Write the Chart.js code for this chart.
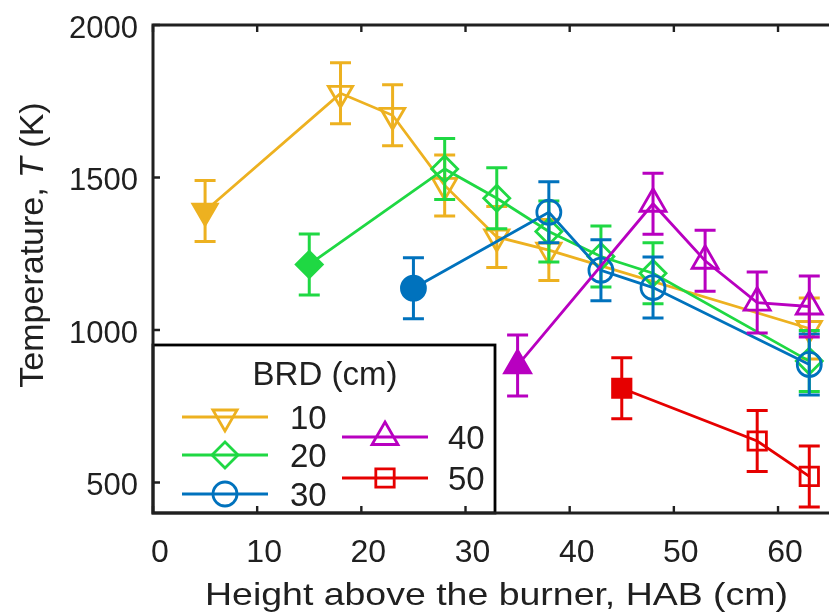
<!DOCTYPE html>
<html>
<head>
<meta charset="utf-8">
<script src="https://cdn.jsdelivr.net/npm/chart.js@4"></script>
<style>
html,body{margin:0;padding:0;background:#fff;overflow:hidden;width:829px;height:613px;}
canvas{display:block;}
</style>
</head>
<body>
<canvas id="c" width="900" height="613"></canvas>
<script>
// ---- data ----
const brdLabels = ['10', '20', '30', '40', '50'];
const hab10 = [5, 18, 23, 28, 33, 38, 63];
const temp10 = [1390, 1776, 1704, 1474, 1305, 1262, 1005];
const err10 = [100, 100, 100, 100, 100, 100, 100];
const hab20 = [15, 28, 33, 38, 43, 48, 63];
const temp20 = [1215, 1528, 1432, 1323, 1241, 1186, 898];
const err20 = [100, 100, 100, 100, 100, 100, 100];
const hab30 = [25, 38, 43, 48, 63];
const temp30 = [1137, 1386, 1196, 1139, 887];
const err30 = [100, 100, 100, 100, 100];
const hab40 = [35, 48, 53, 58, 63];
const temp40 = [884, 1414, 1227, 1090, 1077];
const err40 = [100, 100, 100, 100, 100];
const hab50 = [45, 58, 63];
const temp50 = [809, 636, 520];
const err50 = [100, 100, 100];
const xTickValues = [0, 10, 20, 30, 40, 50, 60, 70];
const yTickValues = [500, 1000, 1500, 2000];

// ---- styles ----
const colors = ['#EDB120', '#1FD843', '#0072BD', '#B800C0', '#E60000'];
const styles = ['triangle', 'rectRot', 'circle', 'triangle', 'rect'];
const rotations = [180, 0, 0, 0, 0];
const radii = [14, 13, 12, 15, 13];
const series = [
  {x: hab10, y: temp10, e: err10},
  {x: hab20, y: temp20, e: err20},
  {x: hab30, y: temp30, e: err30},
  {x: hab40, y: temp40, e: err40},
  {x: hab50, y: temp50, e: err50}
];
const TXT = '#202020';
const FONT = '"Liberation Sans", Arial, Helvetica, sans-serif';

const datasets = series.map((s, i) => ({
  label: brdLabels[i],
  data: s.x.map((xv, k) => ({x: xv, y: s.y[k]})),
  showLine: true,
  borderColor: colors[i],
  borderWidth: 2.8,
  pointStyle: styles[i],
  pointRotation: rotations[i],
  pointRadius: radii[i],
  pointBorderWidth: 2.8,
  pointBorderColor: colors[i],
  pointBackgroundColor: s.x.map((_, k) => k === 0 ? colors[i] : 'rgba(0,0,0,0)'),
  order: 10 - i,
  clip: false
}));

function drawMarker(ctx, style, rot, r, x, y, color) {
  ctx.save();
  ctx.strokeStyle = color; ctx.lineWidth = 2.8;
  Chart.helpers.drawPoint(ctx, {pointStyle: style, rotation: rot, radius: r, borderWidth: 2.8}, x, y);
  ctx.restore();
}

const plugin = {
  id: 'extras',
  beforeDatasetDraw(chart, args) {
    const i = args.index;
    const s = series[i];
    const ctx = chart.ctx, xs = chart.scales.x, ys = chart.scales.y;
    const CAP = 10.5;
    ctx.save();
    ctx.strokeStyle = colors[i];
    ctx.lineWidth = 3;
    s.x.forEach((xv, k) => {
      const px = xs.getPixelForValue(xv);
      const top = ys.getPixelForValue(s.y[k] + s.e[k]);
      const bot = ys.getPixelForValue(s.y[k] - s.e[k]);
      ctx.beginPath();
      ctx.moveTo(px, top); ctx.lineTo(px, bot);
      ctx.moveTo(px - CAP, top); ctx.lineTo(px + CAP, top);
      ctx.moveTo(px - CAP, bot); ctx.lineTo(px + CAP, bot);
      ctx.stroke();
    });
    ctx.restore();
  },
  afterDatasetsDraw(chart) {
    const ctx = chart.ctx, a = chart.chartArea, xs = chart.scales.x, ys = chart.scales.y;
    // legend box
    const L = a.left, R = 495, T = 345, B = a.bottom;
    ctx.save();
    ctx.fillStyle = '#fff';
    ctx.fillRect(L, T, R - L, B - T);
    ctx.strokeStyle = '#000'; ctx.lineWidth = 2.8;
    ctx.strokeRect(L, T, R - L, B - T);
    ctx.fillStyle = TXT;
    ctx.font = '33px ' + FONT;
    ctx.textAlign = 'center'; ctx.textBaseline = 'alphabetic';
    ctx.fillText('BRD (cm)', 325, 385);
    const items = [
      {x0: 182, x1: 268, mx: 225, y: 417, tx: 290},
      {x0: 182, x1: 268, mx: 225, y: 455, tx: 290},
      {x0: 182, x1: 268, mx: 225, y: 494, tx: 290},
      {x0: 342, x1: 428, mx: 385, y: 437, tx: 448},
      {x0: 342, x1: 428, mx: 385, y: 478, tx: 448}
    ];
    items.forEach((it, i) => {
      ctx.strokeStyle = colors[i]; ctx.lineWidth = 2.8;
      ctx.beginPath(); ctx.moveTo(it.x0, it.y); ctx.lineTo(it.x1, it.y); ctx.stroke();
      ctx.fillStyle = 'rgba(0,0,0,0)';
      drawMarker(ctx, styles[i], rotations[i], radii[i], it.mx, it.y, colors[i]);
      ctx.fillStyle = TXT;
      ctx.font = '33px ' + FONT;
      ctx.textAlign = 'left';
      ctx.fillText(brdLabels[i], it.tx, it.y + 12);
    });
    // frame
    ctx.strokeStyle = TXT; ctx.lineWidth = 3;
    ctx.beginPath();
    ctx.moveTo(a.right, a.top); ctx.lineTo(a.left, a.top); ctx.lineTo(a.left, a.bottom); ctx.lineTo(a.right, a.bottom); ctx.lineTo(a.right, a.top);
    ctx.stroke();
    // inward ticks
    ctx.lineWidth = 2.4;
    ctx.beginPath();
    xTickValues.forEach(v => {
      const px = xs.getPixelForValue(v);
      ctx.moveTo(px, a.bottom); ctx.lineTo(px, a.bottom - 7);
      ctx.moveTo(px, a.top); ctx.lineTo(px, a.top + 7);
    });
    yTickValues.forEach(v => {
      const py = ys.getPixelForValue(v);
      ctx.moveTo(a.left, py); ctx.lineTo(a.left + 7, py);
      ctx.moveTo(a.right, py); ctx.lineTo(a.right - 7, py);
    });
    ctx.stroke();
    // x title
    ctx.fillStyle = TXT;
    ctx.font = '32px ' + FONT;
    const xt = 'Height above the burner, HAB (cm)';
    const w = ctx.measureText(xt).width;
    ctx.save();
    ctx.translate(496.5, 605);
    ctx.scale(583 / w, 1);
    ctx.textAlign = 'center';
    ctx.fillText(xt, 0, 0);
    ctx.restore();
    // y title with italic T
    const parts = [
      {t: 'Temperature, ', f: '34px ' + FONT},
      {t: 'T', f: 'italic 34px ' + FONT},
      {t: ' (K)', f: '34px ' + FONT}
    ];
    let total = 0;
    parts.forEach(p => { ctx.font = p.f; p.w = ctx.measureText(p.t).width; total += p.w; });
    ctx.save();
    ctx.translate(43, 245);
    ctx.rotate(-Math.PI / 2);
    ctx.textAlign = 'left';
    let cx = -total / 2;
    parts.forEach(p => { ctx.font = p.f; ctx.fillText(p.t, cx, 0); cx += p.w; });
    ctx.restore();
    ctx.restore();
  }
};

new Chart(document.getElementById('c'), {
  type: 'scatter',
  data: {datasets},
  plugins: [plugin],
  options: {
    responsive: false,
    animation: false,
    events: [],
    layout: {padding: {left: 0, right: 8, top: 25, bottom: 0}},
    plugins: {legend: {display: false}, tooltip: {enabled: false}},
    scales: {
      x: {
        type: 'linear', min: 0, max: 70,
        grid: {display: false, drawTicks: false},
        border: {display: false},
        afterBuildTicks: s => { s.ticks = xTickValues.filter(v => v <= 60).map(v => ({value: v})); },
        afterFit: s => { s.height = 100; s.paddingLeft = 0; s.paddingRight = 0; },
        ticks: {color: TXT, font: {family: FONT, size: 32}, padding: 21, labelOffset: 7, maxRotation: 0, autoSkip: false,
                callback: v => String(v)}
      },
      y: {
        type: 'linear', min: 400, max: 2000,
        grid: {display: false, drawTicks: false},
        border: {display: false},
        afterBuildTicks: s => { s.ticks = yTickValues.map(v => ({value: v})); },
        afterFit: s => { s.width = 153; s.paddingTop = 0; s.paddingBottom = 0; },
        ticks: {color: TXT, font: {family: FONT, size: 31}, padding: 15, labelOffset: 4, callback: v => String(v)}
      }
    }
  }
});
</script>
</body>
</html>
